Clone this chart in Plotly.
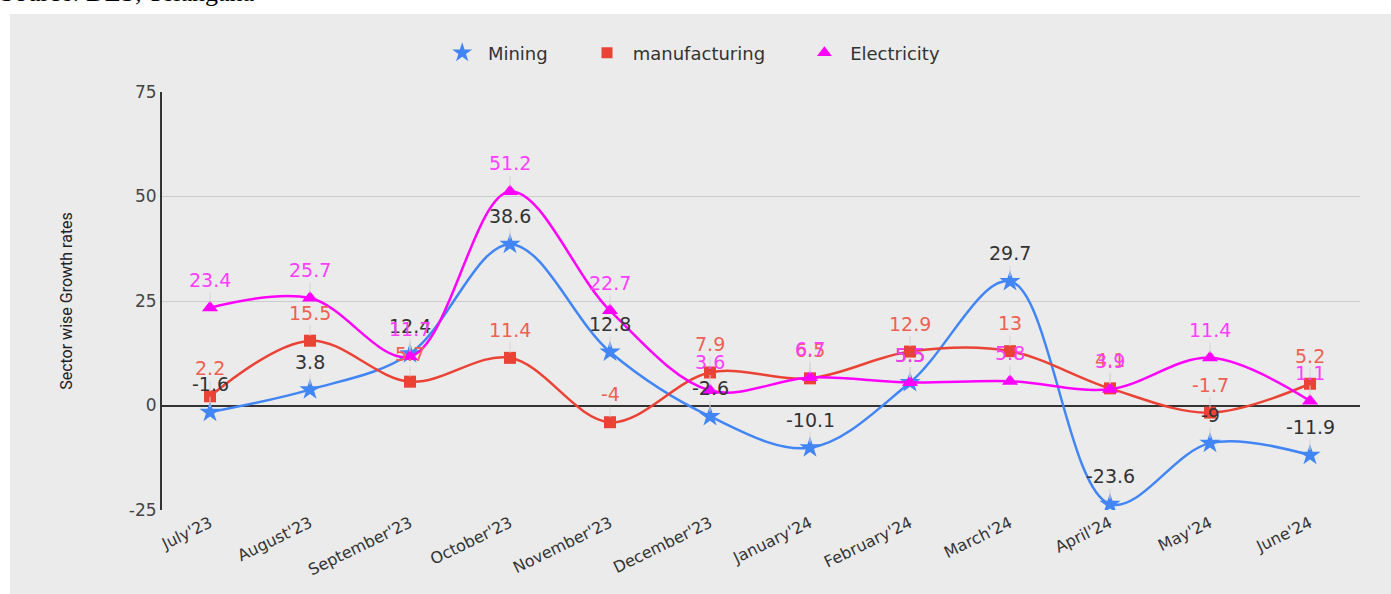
import plotly.graph_objects as go

months = ["July'23", "August'23", "September'23", "October'23", "November'23", "December'23",
          "January'24", "February'24", "March'24", "April'24", "May'24", "June'24"]
mining = [-1.6, 3.8, 12.4, 38.6, 12.8, -2.6, -10.1, 5.5, 29.7, -23.6, -9, -11.9]
manufacturing = [2.2, 15.5, 5.7, 11.4, -4, 7.9, 6.5, 12.9, 13, 4.1, -1.7, 5.2]
electricity = [23.4, 25.7, 11.7, 51.2, 22.7, 3.6, 6.7, 5.5, 5.8, 3.9, 11.4, 1.1]
y_ticks = [-25, 0, 25, 50, 75]
y_tick_text = ["-25", "0", "25", "50", "75"]

series = [
    ("Mining", mining, "#4285F4", "star", 16, "#333333"),
    ("manufacturing", manufacturing, "#EA4335", "square", 12, "#EE6152"),
    ("Electricity", electricity, "#FF00FF", "triangle-up", 14, "#FF3DFF"),
]

fig = go.Figure()
for name, vals, col, sym, size, lab in series:
    fig.add_trace(go.Scatter(
        x=months, y=vals, name=name, mode="lines+markers", showlegend=False,
        line=dict(color=col, width=2.5, shape="spline", smoothing=1.0),
        marker=dict(symbol=sym, size=size, color=col),
    ))
# legend entries (symbol only, as in the reference)
pad = "\u00a0" * 6
for name, vals, col, sym, size, lab in series:
    fig.add_trace(go.Scatter(
        x=[None], y=[None], name=" " + name + pad, mode="markers", showlegend=True,
        marker=dict(symbol=sym, size=size - 1, color=col),
    ))

annotations = []
for name, vals, col, sym, size, lab in series:
    for m, v in zip(months, vals):
        annotations.append(dict(
            x=m, y=v, xref="x", yref="y", text=f"{v:g}",
            showarrow=True, arrowhead=0, arrowwidth=1, arrowcolor="#d4d4d4",
            ax=0, ay=-28, standoff=5,
            font=dict(family="DejaVu Sans, sans-serif", size=19, color=lab),
        ))

annotations.append(dict(
    text="Source: DES, Telangana", xref="paper", yref="paper",
    x=-0.137, y=1.199, xanchor="left", yanchor="bottom", showarrow=False,
    font=dict(family="Liberation Serif, serif", size=26, color="#000000"),
))

fig.update_layout(
    width=1391, height=594,
    margin=dict(l=162, r=31, t=92, b=84),
    paper_bgcolor="#ffffff",
    plot_bgcolor="#ebebeb",
    font=dict(family="DejaVu Sans, sans-serif", color="#333333"),
    showlegend=True,
    legend=dict(orientation="h", x=0.458, xanchor="center", y=1.093, yanchor="middle",
                font=dict(size=18, color="#333333"), bgcolor="rgba(0,0,0,0)",
                itemwidth=30),
    annotations=annotations,
    shapes=[dict(type="rect", xref="paper", yref="paper", x0=-0.1269, x1=1.03,
                 y0=-0.21, y1=1.1866, fillcolor="#ebebeb", line=dict(width=0), layer="below")],
)

fig.update_xaxes(
    type="category", range=[-0.48, 11.5], showgrid=False, zeroline=False, showline=False,
    tickangle=-26, tickfont=dict(family="DejaVu Sans, sans-serif", size=16, color="#333333"), ticks="",
)
fig.update_yaxes(
    range=[-25, 75], tickvals=y_ticks, ticktext=y_tick_text,
    showgrid=True, gridcolor="#cccccc", gridwidth=1,
    zeroline=True, zerolinecolor="#333333", zerolinewidth=1.5,
    showline=True, linecolor="#333333", linewidth=2,
    tickfont=dict(family="DejaVu Sans, sans-serif", size=17, color="#444444"), ticks="",
    title=dict(text="Sector wise Growth rates", standoff=52,
               font=dict(family="Liberation Sans Narrow, Roboto, sans-serif", size=16, color="#222222")),
)

fig.write_html("out.html", config={"displayModeBar": False},
               post_script="document.body.style.margin='0';")
